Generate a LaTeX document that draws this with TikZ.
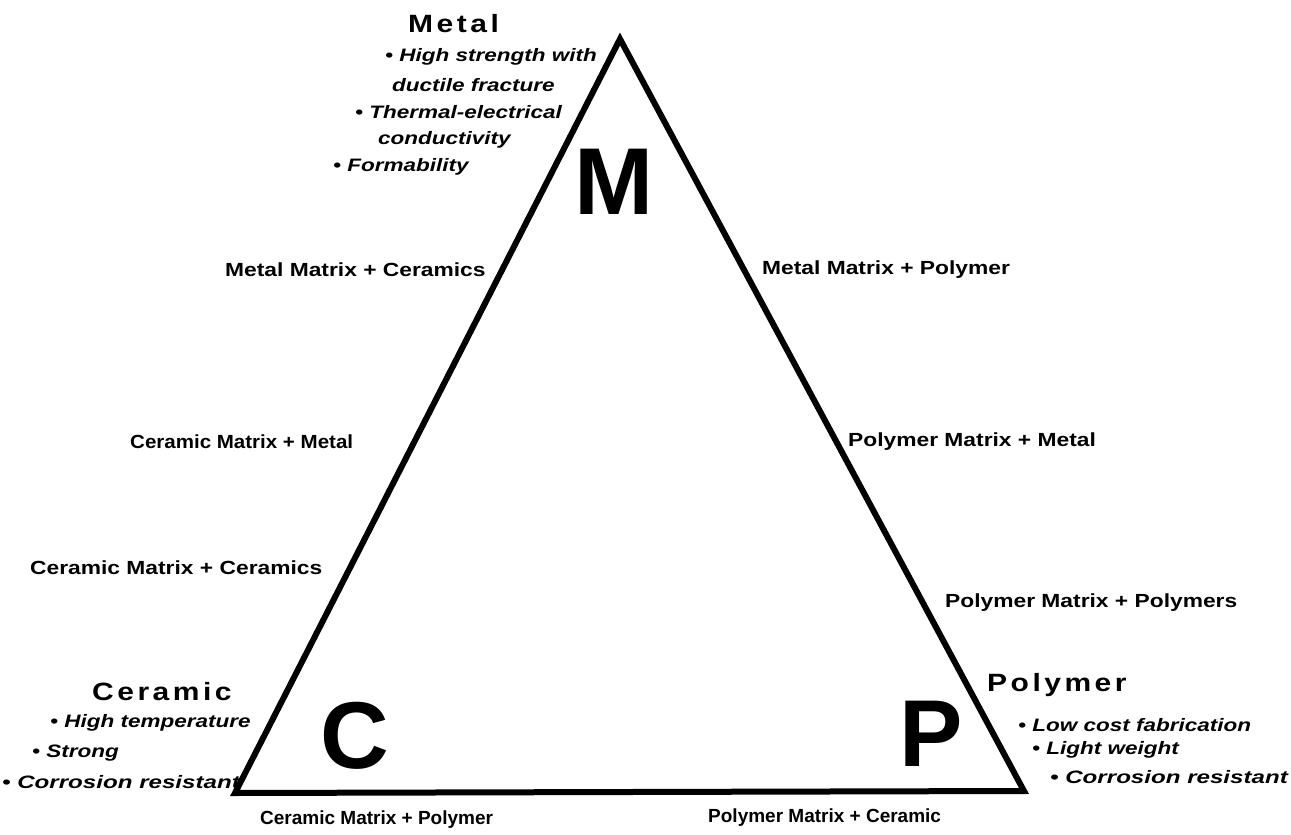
\documentclass[tikz,border=0pt]{standalone}
\usepackage{fontspec}
\setmainfont{Liberation Sans}
\newfontfamily\labfont{Liberation Sans}[FakeStretch=1.2]
\newfontfamily\labfontm{Liberation Sans}[FakeStretch=1.08]
\newfontfamily\labfontn{Liberation Sans}[FakeStretch=1.0]
\newfontfamily\itmfont{Liberation Sans}[FakeStretch=1.25]
\newfontfamily\itmfontw{Liberation Sans}[FakeStretch=1.34]
\newfontfamily\ttlfont{Liberation Sans}[FakeStretch=1.2,LetterSpace=14]
\newfontfamily\bigfont{Liberation Sans}
\begin{document}
\begin{tikzpicture}[x=1pt,y=-1pt,
  lbl/.style={font=\labfont\bfseries\fontsize{19}{19}\selectfont, inner sep=0pt, anchor=west},
  lblm/.style={font=\labfontm\bfseries\fontsize{19}{19}\selectfont, inner sep=0pt, anchor=west},
  lbln/.style={font=\labfontn\bfseries\fontsize{19}{19}\selectfont, inner sep=0pt, anchor=west},
  itm/.style={font=\itmfont\bfseries\itshape\fontsize{18}{18}\selectfont, inner sep=0pt, anchor=west},
  itmw/.style={font=\itmfontw\bfseries\itshape\fontsize{18}{18}\selectfont, inner sep=0pt, anchor=west},
  ttl/.style={font=\ttlfont\bfseries\fontsize{25}{25}\selectfont, inner sep=0pt, anchor=west},
  big/.style={font=\bigfont\bfseries\fontsize{95}{95}\selectfont, inner sep=0pt, anchor=base},
  edge/.style={line width=6pt, line join=miter}]
\useasboundingbox (0,0) rectangle (1291,835);
\coordinate (A) at (620,39);
\coordinate (B) at (235,793);
\coordinate (C) at (1024,791);
\draw[edge] (A) -- (B) -- (C) -- cycle;

\node[big] (bm) at (614,214) {M};
\node[big] (bc) at (355,768) {C};
\node[big] (bp) at (931,766) {P};

\node[ttl] (metalT) at (408,24) {Metal};
\node[itm] (m1) at (385,57) {• High strength with};
\node[itm] (m2) at (392,85) {ductile fracture};
\node[itm] (m3) at (355,112) {• Thermal-electrical};
\node[itm] (m4) at (378,140) {conductivity};
\node[itm] (m5) at (333,167) {• Formability};

\node[ttl] (ceramT) at (92,692) {Ceramic};
\node[itm] (c1) at (50,723) {• High temperature};
\node[itm] (c2) at (32,753) {• Strong};
\node[itmw] (c3) at (2,782) {• Corrosion resistant};

\node[ttl] (polyT) at (987,685) {Polymer};
\node[itm] (p1) at (1018,725) {• Low cost fabrication};
\node[itm] (p2) at (1032,750) {• Light weight};
\node[itmw] (p3) at (1050,777) {• Corrosion resistant};

\node[lbl] (e1) at (225,270) {Metal Matrix + Ceramics};
\node[lbl] (e2) at (762,270) {Metal Matrix + Polymer};
\node[lblm] (e3) at (130,442) {Ceramic Matrix + Metal};
\node[lbl] (e4) at (848,442) {Polymer Matrix + Metal};
\node[lbl] (e5) at (30,568) {Ceramic Matrix + Ceramics};
\node[lbl] (e6) at (945,603) {Polymer Matrix + Polymers};
\node[lbln] (e7) at (260,820) {Ceramic Matrix + Polymer};
\node[lbln] (e8) at (708,818) {Polymer Matrix + Ceramic};
\end{tikzpicture}
\end{document}
